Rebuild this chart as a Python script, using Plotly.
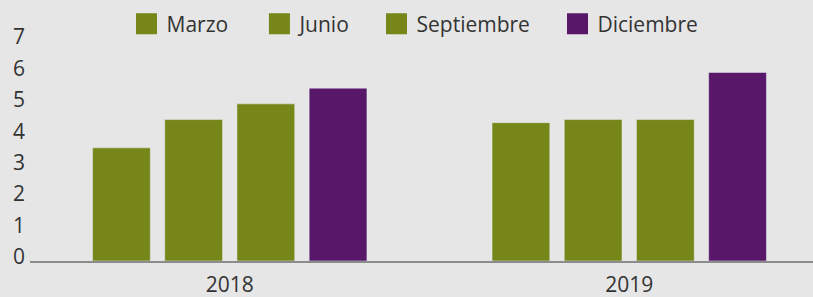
import plotly.graph_objects as go

years = ["2018", "2019"]
series = ["Marzo", "Junio", "Septiembre", "Diciembre"]
values = {
    "Marzo": [3.6, 4.4],
    "Junio": [4.5, 4.5],
    "Septiembre": [5.0, 4.5],
    "Diciembre": [5.5, 6.0],
}
colors = {
    "Marzo": "#768619",
    "Junio": "#768619",
    "Septiembre": "#768619",
    "Diciembre": "#581769",
}
y_ticks = [0, 1, 2, 3, 4, 5, 6, 7]

legend_names = ["legend", "legend2", "legend3", "legend4"]
legend_x = [0.1556, 0.3191, 0.4631, 0.6857]

fig = go.Figure()
for s in series:
    fig.add_trace(go.Bar(
        x=years, y=values[s], name=s, marker_color=colors[s],
        showlegend=False, legendgroup=s, hoverinfo="skip",
    ))
# legend proxies with larger square swatches, one legend per entry
for s, lg in zip(series, legend_names):
    fig.add_trace(go.Scatter(
        x=[None], y=[None], mode="markers", name=s, legendgroup=s, legend=lg,
        marker=dict(symbol="square", size=16, color=colors[s],
                    line=dict(color=colors[s], width=5)),
        showlegend=True,
    ))

legend_common = dict(orientation="h", xref="container", xanchor="left",
                     yref="container", y=0.919, yanchor="middle",
                     bgcolor="rgba(0,0,0,0)", font=dict(size=21), itemwidth=30)
fig.update_layout(
    width=813, height=297,
    margin=dict(l=30, r=0, t=41, b=36, autoexpand=False),
    paper_bgcolor="#E6E6E6", plot_bgcolor="#E6E6E6",
    font=dict(family="Open Sans", size=21, color="#333333"),
    barmode="group", bargap=0.277, bargroupgap=0.2,
    showlegend=True,
)
layout_legends = {}
for lg, lx in zip(legend_names, legend_x):
    layout_legends[lg] = dict(legend_common, x=lx)
fig.update_layout(**layout_legends)

fig.update_xaxes(
    type="category", range=[-0.5, 1.46], showgrid=False, showline=True,
    linecolor="#8C8C8C", linewidth=1.5, ticks="", tickfont=dict(size=21),
    zeroline=False, ticklabelstandoff=4,
)
fig.update_yaxes(
    range=[0, 7], tickvals=y_ticks, showgrid=False, showline=False, zeroline=False,
    ticks="", tickfont=dict(size=21), ticklabelstandoff=4, ticklabelshift=-4,
)

fig.write_html(
    "out.html",
    config={"displayModeBar": False},
    post_script="document.body.style.margin='0';document.body.style.background='#E6E6E6';",
)
